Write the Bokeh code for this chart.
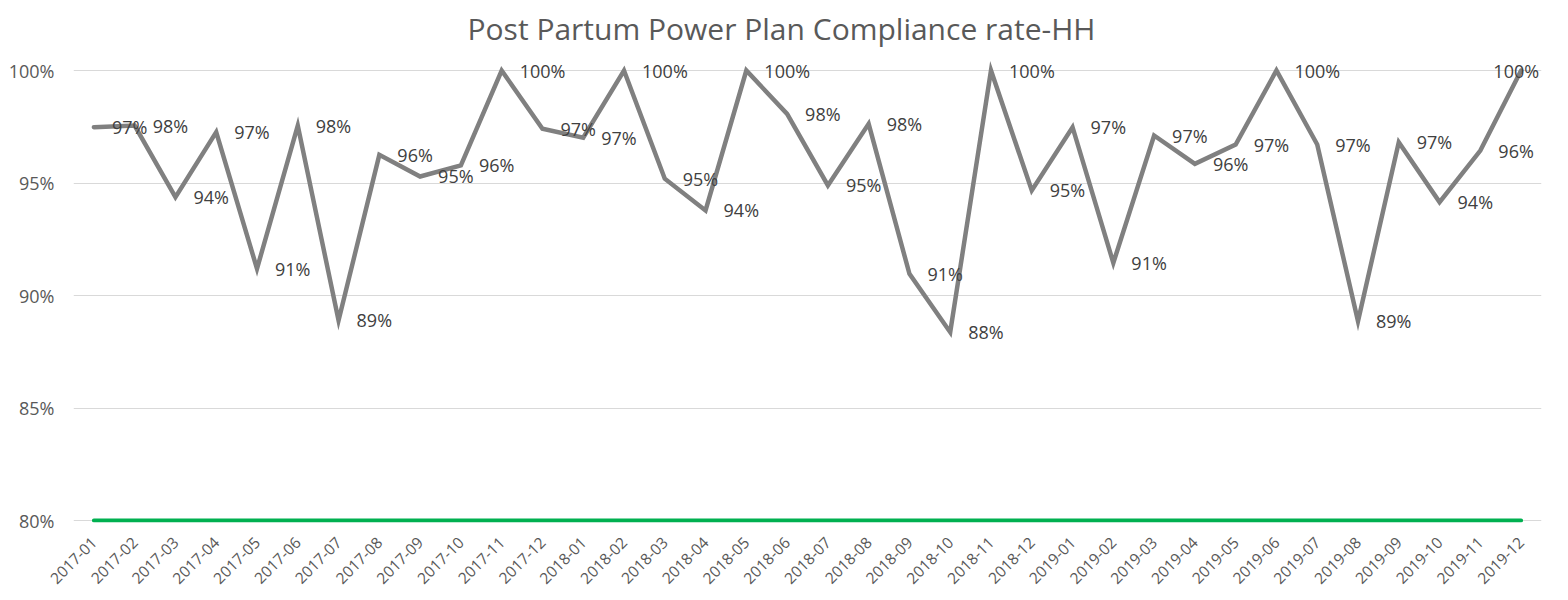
from bokeh.plotting import figure
from bokeh.models import FactorRange, Range1d, NumeralTickFormatter, Label
from bokeh.embed import file_html
from bokeh.resources import INLINE
from math import pi

months = [f"{y}-{m:02d}" for y in (2017, 2018, 2019) for m in range(1, 13)]

compliance = [
    0.9748, 0.9755, 0.9437, 0.9726, 0.9119, 0.9755, 0.8889, 0.9625, 0.9529, 0.9578, 1.0000, 0.9741,
    0.9701, 1.0000, 0.9519, 0.9378, 1.0000, 0.9807, 0.9489, 0.9763, 0.9096, 0.8837, 1.0000, 0.9467,
    0.9748, 0.9145, 0.9711, 0.9585, 0.9671, 1.0000, 0.9671, 0.8886, 0.9681, 0.9415, 0.9644, 1.0000,
]
target = [0.80] * len(months)
y_ticks = [0.80, 0.85, 0.90, 0.95, 1.00]

labels = [f"{round(v * 100):d}%" for v in compliance]

FONT = "Open Sans"

# frame geometry (px) -> y range chosen so that 80%..100% spans 450 px,
# with a little room above/below so the data labels and thick lines are not clipped
FRAME_TOP, FRAME_BOTTOM = 51, 522
PX_PER_UNIT = 450 / (y_ticks[-1] - y_ticks[0])
y_start = y_ticks[0] - (FRAME_BOTTOM - 520) / PX_PER_UNIT
y_end = y_ticks[-1] + (70 - FRAME_TOP) / PX_PER_UNIT

W, H = 1552, 592
LEFT, RIGHT = 73, 11
p = figure(
    x_range=FactorRange(*months, range_padding=0),
    y_range=Range1d(y_start, y_end),
    width=W, height=H,
    output_backend="svg", toolbar_location=None,
    min_border_left=LEFT, min_border_right=RIGHT,
    min_border_top=FRAME_TOP, min_border_bottom=H - FRAME_BOTTOM,
)
p.title.text = "Post Partum Power Plan Compliance rate-HH"
p.title.align = "left"
p.title.offset = 394  # centre the title over the whole chart rather than the plot frame
p.title.text_font = FONT
p.title.text_font_size = "30px"
p.title.text_font_style = "normal"
p.title.text_color = "#595959"
p.title.standoff = 6

p.outline_line_color = None
p.xgrid.grid_line_color = None
p.ygrid.grid_line_color = "#d9d9d9"
p.ygrid.grid_line_width = 1

p.yaxis.ticker = y_ticks
p.yaxis.formatter = NumeralTickFormatter(format="0%")
for ax in (p.xaxis, p.yaxis):
    ax.axis_line_color = None
    ax.major_tick_line_color = None
    ax.minor_tick_line_color = None
    ax.major_label_text_font = FONT
    ax.major_label_text_color = "#595959"
p.yaxis.major_label_text_font_size = "18px"
p.yaxis.major_label_standoff = 13
p.xaxis.major_label_text_font_size = "15.5px"
p.xaxis.major_label_orientation = pi / 4
p.xaxis.major_label_standoff = 11

p.line(months, target, line_color="#00b050", line_width=4, line_cap="round")
p.line(months, compliance, line_color="#808080", line_width=4.5, line_cap="round", line_join="miter")

# data labels: numeric x is the factor's synthetic position (center of category)
n = len(months)
for i, (m, v, t) in enumerate(zip(months, compliance, labels)):
    last = i == n - 1
    p.add_layout(Label(
        x=months.index(m) + 0.5, y=v, text=t,
        x_offset=18,
        text_align=("right" if last else "left"), text_baseline="middle",
        text_font=FONT, text_font_size="18px", text_color="#404040",
    ))

open("out.html", "w").write(file_html(p, INLINE))
